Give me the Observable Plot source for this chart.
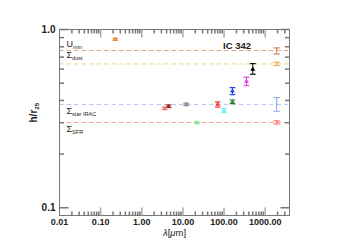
<!DOCTYPE html>
<html>
<head>
<meta charset="utf-8">
<script src="https://cdn.jsdelivr.net/npm/d3@7"></script>
<script src="https://cdn.jsdelivr.net/npm/@observablehq/plot@0.6"></script>
<style>
  body { margin: 0; background: white; }
</style>
</head>
<body>
<div id="chart"></div>
<script>
// Band measurements: wavelength (micron), h/r25 value, error range, colour
const bandLambda = [0.227, 3.6, 4.5, 12, 22, 70, 100, 160, 160, 350, 500];
const bandValue  = [0.880, 0.361, 0.371, 0.380, 0.300, 0.380, 0.351, 0.391, 0.452, 0.512, 0.598];
const bandLow    = [0.868, 0.355, 0.365, 0.374, 0.296, 0.367, 0.343, 0.384, 0.431, 0.485, 0.561];
const bandHigh   = [0.892, 0.367, 0.377, 0.386, 0.304, 0.392, 0.360, 0.402, 0.472, 0.540, 0.644];
const bandColor  = ["#e8922a", "#ee7a6a", "#a02828", "#8c8c8c", "#86e89a", "#e83c3c", "#6ef2f2", "#2f7f2f", "#1e3ee6", "#e640e6", "#000000"];

// Reference scale lengths (dashed lines) with their error bars at the right
const refLabel  = ["U_min", "Σ_dust", "Σ_star IRAC", "Σ_SFR"];
const refValue  = [0.762, 0.641, 0.380, 0.301];
const refLow    = [0.729, 0.627, 0.348, 0.295];
const refHigh   = [0.788, 0.655, 0.415, 0.307];
const refLine   = ["#dba883", "#f3d08a", "#b3c6e8", "#f0a090"];
const refColor  = ["#c4763e", "#f0a630", "#86a2e6", "#f06452"];
const refLambda = 1900;

// Axis ticks
const xMajor = [0.01, 0.1, 1, 10, 100, 1000];
const yMajor = [0.1, 1.0];
const xMinor = [];
for (const dec of [0.01, 0.1, 1, 10, 100, 1000]) for (let k = 2; k <= 9; k++) if (dec * k < 3900) xMinor.push(+(dec * k).toPrecision(3));
const yMinor = [0.2, 0.3, 0.4, 0.5, 0.6, 0.7, 0.8, 0.9];

const points = bandLambda.map((l, i) => ({lambda: l, value: bandValue[i], low: bandLow[i], high: bandHigh[i], color: bandColor[i]}));
const refs = refLabel.map((t, i) => ({label: t, value: refValue[i], low: refLow[i], high: refHigh[i], line: refLine[i], color: refColor[i], lambda: refLambda}));

const seg = (x1, y1, x2, y2) => ({draw(ctx) { ctx.moveTo(x1, y1); ctx.lineTo(x2, y2); }});
const cap = seg(-2.8, 0, 2.8, 0);
const axisGrey = "#777";

const plot = Plot.plot({
  width: 347,
  height: 245,
  marginLeft: 59,
  marginRight: 58,
  marginTop: 29,
  marginBottom: 30,
  style: {fontFamily: "'Liberation Sans', Arial, Helvetica, sans-serif", fontSize: "10px", background: "white", color: "#222"},
  x: {type: "log", domain: [0.01, 3900]},
  y: {type: "log", domain: [0.0905, 1.0]},
  marks: [
    // dashed reference lines
    Plot.ruleY(refs, {y: "value", stroke: "line", strokeWidth: 1, strokeDasharray: "4.5,3"}),
    // reference labels
    Plot.text(refs.filter(d => d.label === "U_min"), {y: "value", text: "label", frameAnchor: "left", textAnchor: "start", dx: 7, dy: -6, fontSize: 9}),
    Plot.text(refs.filter(d => d.label === "Σ_dust"), {y: "value", text: "label", frameAnchor: "left", textAnchor: "start", dx: 7, dy: -8.5, fontSize: 9}),
    Plot.text(refs.filter(d => d.label !== "U_min" && d.label !== "Σ_dust"), {y: "value", text: "label", frameAnchor: "left", textAnchor: "start", dx: 7, dy: 6.5, fontSize: 9}),
    // right-side reference error bars
    Plot.ruleX(refs, {x: "lambda", y1: "low", y2: "high", stroke: "color", strokeWidth: 1}),
    Plot.dot(refs, {x: "lambda", y: "low", symbol: seg(-3.2, 0, 3.2, 0), stroke: "color", fill: "none", strokeWidth: 1}),
    Plot.dot(refs, {x: "lambda", y: "high", symbol: seg(-3.2, 0, 3.2, 0), stroke: "color", fill: "none", strokeWidth: 1}),
    // band points with error bars
    Plot.ruleX(points, {x: "lambda", y1: "low", y2: "high", stroke: "color", strokeWidth: 1}),
    Plot.dot(points, {x: "lambda", y: "low", symbol: cap, stroke: "color", fill: "none", strokeWidth: 1.2}),
    Plot.dot(points, {x: "lambda", y: "high", symbol: cap, stroke: "color", fill: "none", strokeWidth: 1.2}),
    Plot.dot(points, {x: "lambda", y: "value", symbol: "triangle", r: 1.8, fill: "color", stroke: "none"}),
    // frame
    Plot.frame({stroke: axisGrey, strokeWidth: 1}),
    // inward ticks
    Plot.dot(xMinor, {x: d => d, frameAnchor: "bottom", symbol: seg(0, 0, 0, -4), stroke: axisGrey, fill: "none"}),
    Plot.dot(xMinor, {x: d => d, frameAnchor: "top", symbol: seg(0, 0, 0, 4), stroke: axisGrey, fill: "none"}),
    Plot.dot(xMajor.slice(1), {x: d => d, frameAnchor: "bottom", symbol: seg(0, 0, 0, -8), stroke: "#aaa", strokeWidth: 1.5, fill: "none"}),
    Plot.dot(xMajor.slice(1), {x: d => d, frameAnchor: "top", symbol: seg(0, 0, 0, 8), stroke: "#aaa", strokeWidth: 1.5, fill: "none"}),
    Plot.dot(yMinor, {y: d => d, frameAnchor: "left", symbol: seg(0, 0, 4.5, 0), stroke: axisGrey, fill: "none"}),
    Plot.dot(yMinor, {y: d => d, frameAnchor: "right", symbol: seg(0, 0, -4.5, 0), stroke: axisGrey, fill: "none"}),
    Plot.dot(yMajor, {y: d => d, frameAnchor: "left", symbol: seg(0, 0, 9, 0), stroke: axisGrey, fill: "none"}),
    Plot.dot(yMajor, {y: d => d, frameAnchor: "right", symbol: seg(0, 0, -9, 0), stroke: axisGrey, fill: "none"}),
    // tick labels
    Plot.axisX({anchor: "bottom", ticks: xMajor, tickFormat: d3.format(".2f"), tickSize: 0, tickPadding: 3, fontWeight: "bold", fontSize: 9, label: null}),
    Plot.axisY({anchor: "left", ticks: yMajor, tickFormat: d3.format(".1f"), tickSize: 0, tickPadding: 4, fontWeight: "bold", fontSize: 10, label: null}),
    // axis titles and annotation
    Plot.text(["λ[μm]"], {frameAnchor: "bottom", dy: 17.5, fontSize: 9.5, lineAnchor: "middle"}),
    Plot.text(["h/r_25"], {frameAnchor: "left", rotate: -90, dx: -26, fontSize: 10, fontWeight: "bold"}),
    Plot.text(["IC 342"], {frameAnchor: "top-right", textAnchor: "end", dx: -38.5, dy: 13, fontSize: 9.5, fontWeight: "bold"})
  ]
});

// subscripts and italics
d3.select(plot).selectAll("text").each(function() {
  const t = this.textContent;
  if (t === "λ[μm]") {
    this.textContent = "";
    const s = d3.select(this);
    s.append("tspan").attr("font-style", "italic").text("λ");
    s.append("tspan").text("[");
    s.append("tspan").attr("font-style", "italic").text("μ");
    s.append("tspan").text("m]");
  } else if (t.includes("_")) {
    const i = t.indexOf("_");
    this.textContent = "";
    const s = d3.select(this);
    s.append("tspan").text(t.slice(0, i));
    s.append("tspan").attr("dy", "0.35em").attr("font-size", "62%").text(t.slice(i + 1));
  }
});

document.getElementById("chart").appendChild(plot);
</script>
</body>
</html>
